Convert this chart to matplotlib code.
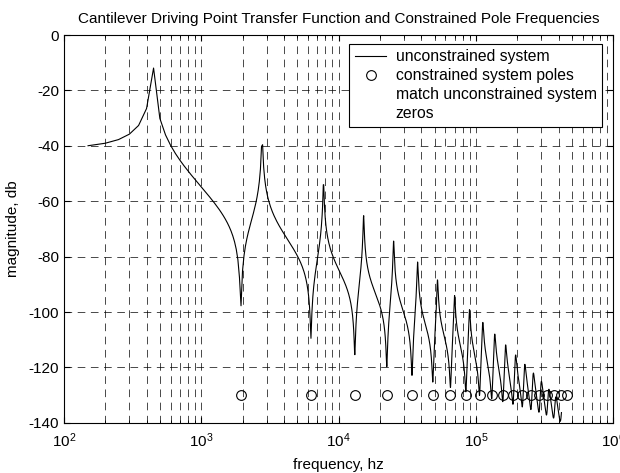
import numpy as np
import matplotlib
matplotlib.use("Agg")
import matplotlib.pyplot as plt
from matplotlib.lines import Line2D

# resonance (pole) frequencies of the free cantilever tip, hz
pole_hz = [443, 2776, 7774, 15233, 25182, 37619, 52540, 69955, 89851, 112228,
           137101, 164468, 194305, 226636, 261463, 298771, 338562, 380848, 425615,
           472865, 522610, 574837, 629560, 686760, 746450]
# anti-resonance (zero) frequencies = constrained system poles, hz
zero_hz = [1943, 6296, 13136, 22462, 34276, 48577, 65365, 84641, 106403, 130649,
           157388, 186619, 218320, 252517, 289208, 328381, 370037, 414187, 460820,
           509947, 561548, 615650, 672225, 731300, 792860]
n_circles = 19         # constrained poles marked on the plot
static_db = -41.0      # low frequency level
zeta0 = 0.006          # damping at low frequency
zeta_per_hz = 4e-8     # damping growth with frequency
circle_db = -130.0     # level the circles are drawn at
f_start, f_stop, f_step = 150, 420000, 50

plt.rcParams['font.family'] = ['Liberation Sans', 'DejaVu Sans']
plt.rcParams['axes.unicode_minus'] = False

f = np.arange(f_start, f_stop + 1, f_step, dtype=float)
h = np.full(f.shape, 10 ** (static_db / 20), dtype=complex)
for z in zero_hz:
    r = f / z
    h *= 1 - r ** 2 + 2j * (zeta0 + zeta_per_hz * z) * r
for p in pole_hz:
    r = f / p
    h /= 1 - r ** 2 + 2j * (zeta0 + zeta_per_hz * p) * r
mag_db = 20 * np.log10(np.abs(h))

fig = plt.figure(figsize=(6.2, 4.73), dpi=100)
ax = fig.add_axes([0.103, 0.106, 0.886, 0.820])

ax.semilogx(f, mag_db, color='black', lw=0.8, label='unconstrained system')
circles = zero_hz[:n_circles]
ax.semilogx(circles, np.full(len(circles), circle_db), 'o', mfc='none', mec='black',
            ms=7, mew=0.8, label='constrained system poles')

ax.set_xlim(1e2, 1e6)
ax.set_ylim(-140, 0)
ax.set_yticks(np.arange(-140, 1, 20))
ax.set_xticks([1e2, 1e3, 1e4, 1e5, 1e6])
ax.set_xticklabels([r'$\mathregular{10^{%d}}$' % k for k in range(2, 7)])

ax.grid(True, which='both', axis='x', color='black', ls=(0, (11, 8)), lw=0.5)
ax.grid(True, which='major', axis='y', color='black', ls=(0, (11, 8)), lw=0.5)
ax.tick_params(which='both', direction='in', top=True, right=True, labelsize=11)
ax.tick_params(which='major', length=4)
ax.tick_params(which='minor', length=2.5)
ax.tick_params(axis='x', which='both', pad=6)
for s in ax.spines.values():
    s.set_linewidth(0.8)

ax.set_title('Cantilever Driving Point Transfer Function and Constrained Pole Frequencies',
             fontsize=11, pad=9)
ax.set_xlabel('frequency, hz', fontsize=11, labelpad=6)
ax.set_ylabel('magnitude, db', fontsize=11, labelpad=6)

handles, labels = ax.get_legend_handles_labels()
handles += [Line2D([], [], ls='none'), Line2D([], [], ls='none')]
labels += ['match unconstrained system', 'zeros']
leg = ax.legend(handles, labels, loc='upper right', fontsize=11.3, frameon=True,
                fancybox=False, edgecolor='black', framealpha=1,
                labelspacing=0.25, handlelength=2.0, handletextpad=0.6,
                borderpad=0.35, borderaxespad=0,
                bbox_to_anchor=(0.980, 0.977))
leg.get_frame().set_linewidth(0.8)

fig.savefig('out.png', dpi=100)
